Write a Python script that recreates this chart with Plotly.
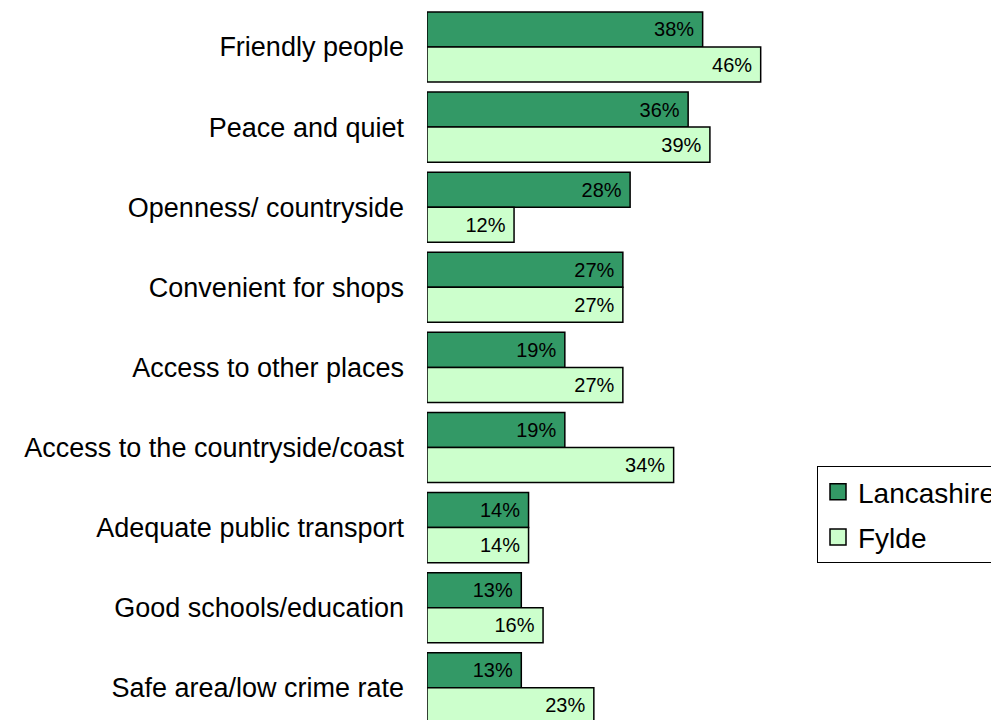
import plotly.graph_objects as go

categories = [
    "Friendly people",
    "Peace and quiet",
    "Openness/ countryside",
    "Convenient for shops",
    "Access to other places",
    "Access to the countryside/coast",
    "Adequate public transport",
    "Good schools/education",
    "Safe area/low crime rate",
]
lancashire = [38, 36, 28, 27, 19, 19, 14, 13, 13]
fylde = [46, 39, 12, 27, 27, 34, 14, 16, 23]

FONT = "Liberation Sans, Arial, sans-serif"
C_LANC = "#339966"
C_FYL = "#CCFFCC"

# page body has an 8px margin; figure is offset by that amount
W, H = 999, 712
L = 419
PX_PER_PCT = 7.254
PX_PER_CAT = 80.1

fig = go.Figure()
for name, vals, col in [("Lancashire", lancashire, C_LANC), ("Fylde", fylde, C_FYL)]:
    fig.add_trace(go.Bar(
        y=categories, x=vals, orientation="h", name=name,
        marker=dict(color=col, line=dict(color="black", width=1.5)),
        texttemplate="%{x}%\u00a0", textposition="inside", insidetextanchor="end",
        textfont=dict(family=FONT, size=20, color="black"),
        constraintext="none", showlegend=False, cliponaxis=True,
    ))
# legend entries with larger square swatches
for i, (name, col) in enumerate([("Lancashire", C_LANC), ("Fylde", C_FYL)]):
    fig.add_trace(go.Scatter(
        x=[None], y=[None], mode="markers", name=name, legendgroup=f"g{i}",
        marker=dict(symbol="square", size=17, color=col, line=dict(color="black", width=1.5)),
        showlegend=True,
    ))

fig.update_layout(
    width=W, height=H,
    margin=dict(l=L, r=0, t=0, b=0, pad=0, autoexpand=False),
    paper_bgcolor="white", plot_bgcolor="white",
    barmode="group", bargap=0.125, bargroupgap=0,
    font=dict(family=FONT, color="black"),
    xaxis=dict(range=[0, (W - L) / PX_PER_PCT], visible=False, showgrid=False,
               zeroline=False, fixedrange=True),
    yaxis=dict(
        categoryorder="array", categoryarray=categories,
        range=[-0.487 + H / PX_PER_CAT, -0.487], showgrid=False, zeroline=False, showline=False,
        ticks="", ticklabelstandoff=22, tickfont=dict(family=FONT, size=27, color="black"),
    ),
    legend=dict(
        xref="paper", yref="paper",
        x=(809 - L) / (W - L), y=1 - 458 / H, xanchor="left", yanchor="top",
        bordercolor="black", borderwidth=1, bgcolor="white",
        font=dict(family=FONT, size=28, color="black"),
        tracegroupgap=6, traceorder="grouped",
    ),
)

fig.write_html("out.html")
